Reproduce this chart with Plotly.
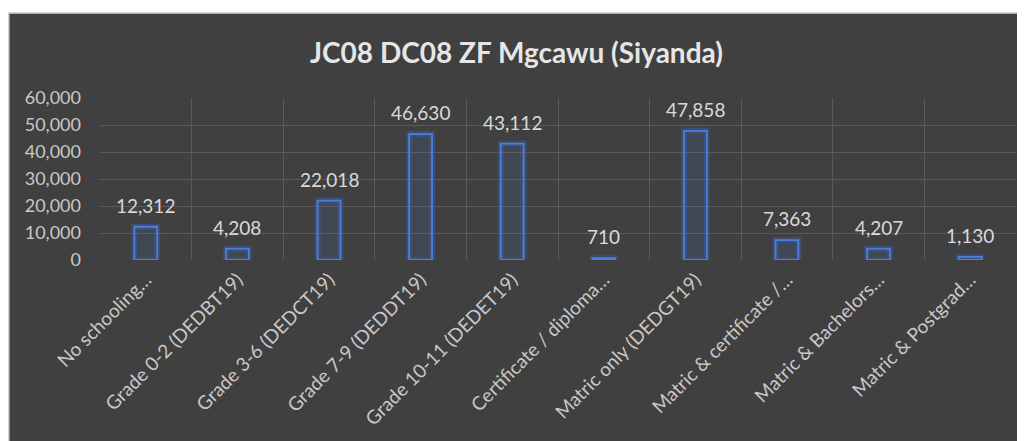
import plotly.graph_objects as go

categories = [
    "No schooling…",
    "Grade 0-2 (DEDBT19)",
    "Grade 3-6 (DEDCT19)",
    "Grade 7-9 (DEDDT19)",
    "Grade 10-11 (DEDET19)",
    "Certificate / diploma…",
    "Matric only (DEDGT19)",
    "Matric & certificate /…",
    "Matric & Bachelors…",
    "Matric & Postgrad…",
]
values = [12312, 4208, 22018, 46630, 43112, 710, 47858, 7363, 4207, 1130]
y_ticks = [0, 10000, 20000, 30000, 40000, 50000, 60000]
title = "JC08 DC08 ZF Mgcawu (Siyanda)"

FONT = "Lato, 'Open Sans', sans-serif"
BG = "#404040"
TXT = "#d9d9d9"

fig = go.Figure()
# soft glow behind bars
fig.add_trace(go.Bar(
    x=categories, y=values,
    marker=dict(color="rgba(68,114,196,0.10)",
                line=dict(color="rgba(60,110,230,0.25)", width=6)),
    hoverinfo="skip", showlegend=False,
))
fig.add_trace(go.Bar(
    x=categories, y=values,
    marker=dict(color="rgba(68,114,196,0.05)",
                line=dict(color="#4a7fe0", width=1.8)),
    showlegend=False,
))

annotations = [
    dict(x=c, y=v, xref="x", yref="y", text=f"{v:,}", showarrow=False,
         yanchor="bottom", yshift=8,
         font=dict(family=FONT, size=19, color=TXT))
    for c, v in zip(categories, values)
]

fig.update_layout(
    width=1017, height=433,
    margin=dict(l=92, r=9, t=90, b=181),
    paper_bgcolor="white",
    plot_bgcolor=BG,
    barmode="overlay",
    bargap=0.75,
    annotations=annotations,
    title=dict(text=f"<b>{title}</b>", x=0.5, xanchor="center",
               y=0.895, yanchor="middle",
               font=dict(family=FONT, size=28, color="#e6e6e6")),
    shapes=[dict(type="rect", xref="paper", yref="paper",
                 x0=-0.0996, x1=1.02, y0=-1.3, y1=1.5247,
                 fillcolor=BG, line=dict(color="#d0d0d0", width=1.5),
                 layer="below")],
    xaxis=dict(
        type="category",
        tickson="boundaries",
        showgrid=True, gridcolor="#5a5a5a", gridwidth=1,
        tickangle=-45,
        ticks="", showline=False, zeroline=False,
        ticklabelstandoff=4,
        tickfont=dict(family=FONT, size=19, color="#c8c8c8"),
    ),
    yaxis=dict(
        range=[0, 60000], tickvals=y_ticks, tickformat=",",
        showgrid=True, gridcolor="#5a5a5a", gridwidth=1,
        zeroline=False, showline=False, ticks="",
        ticklabelstandoff=18,
        tickfont=dict(family=FONT, size=18, color="#c8c8c8"),
    ),
)

fig.write_html("out.html")
